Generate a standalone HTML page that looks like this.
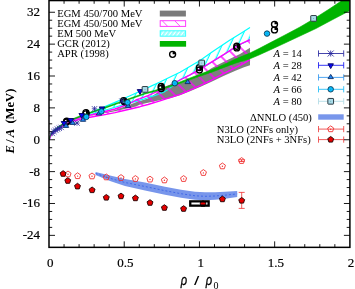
<!DOCTYPE html>
<html><head><meta charset="utf-8"><style>
html,body{margin:0;padding:0;background:#fff;}
body{width:355px;height:289px;position:relative;overflow:hidden;font-family:"Liberation Serif",serif;color:#000;}
</style></head><body>
<svg width="355" height="289" viewBox="0 0 355 289" style="position:absolute;left:0;top:0">
<defs>
<pattern id="hm" width="10" height="10" patternUnits="userSpaceOnUse" patternTransform="translate(2,0) rotate(-45)"><line x1="5" y1="-1" x2="5" y2="11" stroke="#ff00ff" stroke-width="1.4"/></pattern>
<pattern id="hc" width="7.2" height="8" patternUnits="userSpaceOnUse" patternTransform="translate(1.5,0) rotate(25)"><line x1="3" y1="-1" x2="3" y2="9" stroke="#00ffff" stroke-width="1.2"/></pattern>
<pattern id="hcl" width="3.3" height="8" patternUnits="userSpaceOnUse" patternTransform="translate(1,0) rotate(35)"><rect x="0" y="-1" width="2.2" height="10" fill="#9bffff"/></pattern>
<clipPath id="cp"><rect x="48.8" y="0.6" width="300.7" height="246.4"/></clipPath>
</defs>
<rect x="0" y="0" width="355" height="289" fill="#fff"/>
<g clip-path="url(#cp)">
<polygon points="49.3,139.2 50.3,136.5 51.5,134.2 53.0,132.2 55.0,130.3 60.0,126.6 68.0,121.9 76.0,118.7 84.0,116.7 104.0,112.6 115.0,110.0 129.0,105.0 136.0,102.3 140.0,100.9 148.0,98.4 156.0,93.6 164.0,88.6 175.0,85.0 180.0,83.6 199.0,76.3 205.0,72.8 211.0,68.6 218.0,64.8 229.0,59.2 240.0,53.9 250.0,47.8 250.0,65.2 244.0,67.3 236.0,70.5 224.0,75.8 211.0,82.0 200.0,87.0 190.0,91.2 180.0,95.2 170.0,98.2 164.0,99.3 156.0,101.0 148.0,102.8 140.0,104.6 136.0,106.4 129.0,108.0 115.0,111.2 104.0,113.3 84.0,117.0 76.0,118.7 68.0,121.9 60.0,126.6 55.0,130.3 53.0,132.2 51.5,134.2 50.3,136.5 49.3,139.2" fill="#7f7f7f"/>
<polygon points="49.3,139.2 50.3,136.5 51.5,134.2 53.0,132.2 55.0,130.3 60.0,126.6 68.0,121.9 76.0,118.7 84.0,115.5 91.0,112.6 105.0,106.6 115.0,102.4 129.0,96.2 140.0,91.2 150.0,86.6 160.0,82.0 164.0,80.0 180.0,72.2 200.0,60.5 212.4,51.8 230.0,39.9 241.0,33.2 250.0,27.5 250.0,39.9 241.0,44.0 234.0,48.0 224.0,54.6 211.0,62.6 200.0,69.5 190.0,75.0 180.0,79.6 176.0,82.6 172.0,86.4 168.0,89.6 164.0,92.0 158.0,94.6 148.0,97.8 140.0,100.3 136.0,101.4 131.0,102.4 115.0,107.3 105.0,110.2 97.5,112.5 84.0,116.4 76.0,118.7 68.0,121.9 60.0,126.6 55.0,130.3 53.0,132.2 51.5,134.2 50.3,136.5 49.3,139.2" fill="url(#hc)"/>
<polyline points="49.3,139.2 50.3,136.5 51.5,134.2 53.0,132.2 55.0,130.3 60.0,126.6 68.0,121.9 76.0,118.7 84.0,115.5 91.0,112.6 105.0,106.6 115.0,102.4 129.0,96.2 140.0,91.2 150.0,86.6 160.0,82.0 164.0,80.0 180.0,72.2 200.0,60.5 212.4,51.8 230.0,39.9 241.0,33.2 250.0,27.5" fill="none" stroke="#00ffff" stroke-width="1.2" stroke-linejoin="round"/>
<polyline points="49.3,139.2 50.3,136.5 51.5,134.2 53.0,132.2 55.0,130.3 60.0,126.6 68.0,121.9 76.0,118.7 84.0,116.4 97.5,112.5 105.0,110.2 115.0,107.3 131.0,102.4 136.0,101.4 140.0,100.3 148.0,97.8 158.0,94.6 164.0,92.0 168.0,89.6 172.0,86.4 176.0,82.6 180.0,79.6 190.0,75.0 200.0,69.5 211.0,62.6 224.0,54.6 234.0,48.0 241.0,44.0 250.0,39.9" fill="none" stroke="#00ffff" stroke-width="1.1" stroke-linejoin="round"/>
<polygon points="49.3,139.2 50.3,136.5 51.5,134.2 53.0,132.2 55.0,130.3 60.0,126.6 68.0,121.9 76.0,118.7 84.0,116.6 104.0,111.8 115.0,109.0 129.0,104.0 136.0,100.0 140.0,98.7 148.0,95.7 160.0,90.2 170.0,85.3 180.0,80.0 190.0,74.9 200.0,69.1 211.0,62.3 224.0,54.3 234.0,47.8 241.0,43.8 250.0,39.7 250.0,59.7 244.0,63.1 236.0,67.3 224.0,73.4 211.0,80.3 200.0,85.6 190.0,90.2 180.0,94.4 170.0,97.6 160.0,100.8 148.0,104.5 140.0,106.7 125.0,110.3 115.0,112.6 105.0,114.6 90.0,117.3 85.0,118.0 76.0,120.3 68.0,123.0 60.0,127.4 55.0,130.9 53.0,132.7 51.5,134.6 50.3,136.7 49.3,139.2" fill="url(#hm)"/>
<polyline points="49.3,139.2 50.3,136.5 51.5,134.2 53.0,132.2 55.0,130.3 60.0,126.6 68.0,121.9 76.0,118.7 84.0,116.6 104.0,111.8 115.0,109.0 129.0,104.0 136.0,100.0 140.0,98.7 148.0,95.7 160.0,90.2 170.0,85.3 180.0,80.0 190.0,74.9 200.0,69.1 211.0,62.3 224.0,54.3 234.0,47.8 241.0,43.8 250.0,39.7" fill="none" stroke="#ff00ff" stroke-width="1.4" stroke-linejoin="round"/>
<polyline points="49.3,139.2 50.3,136.7 51.5,134.6 53.0,132.7 55.0,130.9 60.0,127.4 68.0,123.0 76.0,120.3 85.0,118.0 90.0,117.3 105.0,114.6 115.0,112.6 125.0,110.3 140.0,106.7 148.0,104.5 160.0,100.8 170.0,97.6 180.0,94.4 190.0,90.2 200.0,85.6 211.0,80.3 224.0,73.4 236.0,67.3 244.0,63.1 250.0,59.7" fill="none" stroke="#ff00ff" stroke-width="1.4" stroke-linejoin="round"/>
<polygon points="49.3,138.2 50.3,135.4 51.5,133.1 53.0,131.1 55.0,129.2 60.0,125.5 68.0,120.8 76.0,117.5 85.0,114.0 105.0,107.2 125.0,100.0 145.0,93.0 156.0,90.0 180.0,81.9 199.0,74.5 211.0,70.1 224.0,64.4 236.0,58.8 250.0,53.0 259.0,48.6 270.0,42.8 284.0,35.5 300.0,27.0 313.6,19.0 330.0,8.5 342.0,0.5 351.0,-5.5 351.0,10.0 349.0,11.0 330.0,21.0 316.0,28.5 300.0,36.0 284.0,43.5 270.0,50.0 259.0,55.0 250.0,58.8 236.0,63.0 224.0,67.4 211.0,72.5 199.0,76.5 180.0,83.5 156.0,91.2 145.0,94.0 125.0,101.0 105.0,108.2 85.0,115.0 76.0,118.5 68.0,121.8 60.0,126.5 55.0,130.1 53.0,131.9 51.5,133.9 50.3,136.2 49.3,139.0" fill="#00b400" stroke="#00b400" stroke-width="0.6"/>
<circle cx="66.7" cy="121.2" r="3.0" fill="none" stroke="#000" stroke-width="1.35"/>
<path d="M66.7,121.2 L66.7,118.2 A3.0,3.0 0 0 1 69.7,121.2 Z" fill="#000"/>
<circle cx="66.7" cy="122" r="3.0" fill="none" stroke="#000" stroke-width="1.35"/>
<path d="M66.7,122 L66.7,119.0 A3.0,3.0 0 0 1 69.7,122 Z" fill="#000"/>
<circle cx="86" cy="112.6" r="3.0" fill="none" stroke="#000" stroke-width="1.35"/>
<path d="M86,112.6 L86,109.6 A3.0,3.0 0 0 1 89.0,112.6 Z" fill="#000"/>
<circle cx="86" cy="113.8" r="3.0" fill="none" stroke="#000" stroke-width="1.35"/>
<path d="M86,113.8 L86,110.8 A3.0,3.0 0 0 1 89.0,113.8 Z" fill="#000"/>
<circle cx="123.6" cy="100.6" r="3.0" fill="none" stroke="#000" stroke-width="1.35"/>
<path d="M123.6,100.6 L123.6,97.6 A3.0,3.0 0 0 1 126.6,100.6 Z" fill="#000"/>
<circle cx="124.4" cy="101.8" r="3.0" fill="none" stroke="#000" stroke-width="1.35"/>
<path d="M124.4,101.8 L124.4,98.8 A3.0,3.0 0 0 1 127.4,101.8 Z" fill="#000"/>
<circle cx="161.2" cy="86.5" r="3.0" fill="none" stroke="#000" stroke-width="1.35"/>
<path d="M161.2,86.5 L161.2,83.5 A3.0,3.0 0 0 1 164.2,86.5 Z" fill="#000"/>
<circle cx="161.2" cy="88.5" r="3.0" fill="none" stroke="#000" stroke-width="1.35"/>
<path d="M161.2,88.5 L161.2,85.5 A3.0,3.0 0 0 1 164.2,88.5 Z" fill="#000"/>
<circle cx="199.4" cy="67.6" r="3.0" fill="none" stroke="#000" stroke-width="1.35"/>
<path d="M199.4,67.6 L199.4,64.6 A3.0,3.0 0 0 1 202.4,67.6 Z" fill="#000"/>
<circle cx="199.4" cy="70.0" r="3.0" fill="none" stroke="#000" stroke-width="1.35"/>
<path d="M199.4,70.0 L199.4,67.0 A3.0,3.0 0 0 1 202.4,70.0 Z" fill="#000"/>
<circle cx="236.8" cy="46.2" r="3.0" fill="none" stroke="#000" stroke-width="1.35"/>
<path d="M236.8,46.2 L236.8,43.2 A3.0,3.0 0 0 1 239.8,46.2 Z" fill="#000"/>
<circle cx="236.8" cy="47.9" r="3.0" fill="none" stroke="#000" stroke-width="1.35"/>
<path d="M236.8,47.9 L236.8,44.9 A3.0,3.0 0 0 1 239.8,47.9 Z" fill="#000"/>
<circle cx="274.5" cy="24.3" r="3.0" fill="none" stroke="#000" stroke-width="1.35"/>
<path d="M274.5,24.3 L274.5,21.3 A3.0,3.0 0 0 1 277.5,24.3 Z" fill="#000"/>
<circle cx="274.5" cy="29.9" r="3.0" fill="none" stroke="#000" stroke-width="1.35"/>
<path d="M274.5,29.9 L274.5,26.9 A3.0,3.0 0 0 1 277.5,29.9 Z" fill="#000"/>
<path d="M49.50,130.70L54.90,136.10M49.50,136.10L54.90,130.70M49.50,133.40L54.90,133.40M52.20,130.70L52.20,136.10" stroke="#26269c" stroke-width="0.75" fill="none"/>
<path d="M51.20,128.80L56.60,134.20M51.20,134.20L56.60,128.80M51.20,131.50L56.60,131.50M53.90,128.80L53.90,134.20" stroke="#26269c" stroke-width="0.75" fill="none"/>
<path d="M53.00,127.50L58.40,132.90M53.00,132.90L58.40,127.50M53.00,130.20L58.40,130.20M55.70,127.50L55.70,132.90" stroke="#26269c" stroke-width="0.75" fill="none"/>
<path d="M54.80,126.40L60.20,131.80M54.80,131.80L60.20,126.40M54.80,129.10L60.20,129.10M57.50,126.40L57.50,131.80" stroke="#26269c" stroke-width="0.75" fill="none"/>
<path d="M56.60,125.50L62.00,130.90M56.60,130.90L62.00,125.50M56.60,128.20L62.00,128.20M59.30,125.50L59.30,130.90" stroke="#26269c" stroke-width="0.75" fill="none"/>
<path d="M58.50,124.70L63.90,130.10M58.50,130.10L63.90,124.70M58.50,127.40L63.90,127.40M61.20,124.70L61.20,130.10" stroke="#26269c" stroke-width="0.75" fill="none"/>
<path d="M74.30,120.30L79.70,125.70M74.30,125.70L79.70,120.30M74.30,123.00L79.70,123.00M77.00,120.30L77.00,125.70" stroke="#26269c" stroke-width="0.75" fill="none"/>
<path d="M91.80,106.10L97.20,111.50M91.80,111.50L97.20,106.10M91.80,108.80L97.20,108.80M94.50,106.10L94.50,111.50" stroke="#26269c" stroke-width="0.75" fill="none"/>
<path d="M119.30,98.50L124.70,103.90M119.30,103.90L124.70,98.50M119.30,101.20L124.70,101.20M122.00,98.50L122.00,103.90" stroke="#26269c" stroke-width="0.75" fill="none"/>
<path d="M61.25,121.50L66.75,121.50L64.00,126.30Z" fill="#0808f0" stroke="#000064" stroke-width="0.9" stroke-linejoin="round"/>
<path d="M68.15,118.50L73.65,118.50L70.90,123.30Z" fill="#0808f0" stroke="#000064" stroke-width="0.9" stroke-linejoin="round"/>
<path d="M78.95,113.50L84.45,113.50L81.70,118.30Z" fill="#0808f0" stroke="#000064" stroke-width="0.9" stroke-linejoin="round"/>
<path d="M99.25,106.90L104.75,106.90L102.00,111.70Z" fill="#0808f0" stroke="#000064" stroke-width="0.9" stroke-linejoin="round"/>
<path d="M137.25,89.60L142.75,89.60L140.00,94.40Z" fill="#0808f0" stroke="#000064" stroke-width="0.9" stroke-linejoin="round"/>
<path d="M63.30,127.40L68.70,127.40L66.00,123.20Z" fill="#1e82f0" stroke="#0c2c64" stroke-width="0.9" stroke-linejoin="round"/>
<path d="M70.00,124.40L75.40,124.40L72.70,120.20Z" fill="#1e82f0" stroke="#0c2c64" stroke-width="0.9" stroke-linejoin="round"/>
<path d="M80.30,121.30L85.70,121.30L83.00,117.10Z" fill="#1e82f0" stroke="#0c2c64" stroke-width="0.9" stroke-linejoin="round"/>
<path d="M96.30,115.00L101.70,115.00L99.00,110.80Z" fill="#1e82f0" stroke="#0c2c64" stroke-width="0.9" stroke-linejoin="round"/>
<path d="M125.30,107.40L130.70,107.40L128.00,103.20Z" fill="#1e82f0" stroke="#0c2c64" stroke-width="0.9" stroke-linejoin="round"/>
<path d="M185.00,83.60L190.40,83.60L187.70,79.40Z" fill="#1e82f0" stroke="#0c2c64" stroke-width="0.9" stroke-linejoin="round"/>
<circle cx="86.3" cy="116.9" r="2.75" fill="#08bcfc" stroke="#0a3c5a" stroke-width="0.9"/>
<circle cx="86.3" cy="116.9" r="0.5" fill="#0a90c8"/>
<circle cx="101.4" cy="111.4" r="2.75" fill="#08bcfc" stroke="#0a3c5a" stroke-width="0.9"/>
<circle cx="101.4" cy="111.4" r="0.5" fill="#0a90c8"/>
<circle cx="127.6" cy="102.4" r="2.75" fill="#08bcfc" stroke="#0a3c5a" stroke-width="0.9"/>
<circle cx="127.6" cy="102.4" r="0.5" fill="#0a90c8"/>
<circle cx="174.8" cy="83.2" r="2.75" fill="#08bcfc" stroke="#0a3c5a" stroke-width="0.9"/>
<circle cx="174.8" cy="83.2" r="0.5" fill="#0a90c8"/>
<circle cx="267" cy="33.6" r="2.75" fill="#08bcfc" stroke="#0a3c5a" stroke-width="0.9"/>
<circle cx="267" cy="33.6" r="0.5" fill="#0a90c8"/>
<rect x="142.15" y="86.55" width="5.7" height="5.7" rx="0.5" fill="#aadcea" stroke="#2c3c44" stroke-width="1.0"/>
<circle cx="145" cy="89.4" r="0.5" fill="#6aa"/>
<rect x="198.85" y="60.15" width="5.7" height="5.7" rx="0.5" fill="#aadcea" stroke="#2c3c44" stroke-width="1.0"/>
<circle cx="201.7" cy="63" r="0.5" fill="#6aa"/>
<rect x="310.75" y="15.55" width="5.7" height="5.7" rx="0.5" fill="#aadcea" stroke="#2c3c44" stroke-width="1.0"/>
<circle cx="313.6" cy="18.4" r="0.5" fill="#6aa"/>
<polygon points="95.6,171.9 110.0,175.6 125.0,179.0 145.0,182.5 165.0,186.7 181.0,189.7 195.0,191.8 205.0,192.3 215.0,192.2 225.0,191.7 237.2,190.9 237.2,196.9 225.0,198.7 215.0,199.8 205.0,200.3 195.0,199.8 181.0,197.7 165.0,194.7 145.0,190.5 125.0,186.0 110.0,181.0 95.6,175.1" fill="#7896eb"/>
<polyline points="95.6,173.5 110,178.3 125,182.5 145,186.5 165,190.7 181,193.7 195,195.8 205,196.3 215,196 225,195.2 237.2,193.9" fill="none" stroke="#3c64e6" stroke-width="0.9" stroke-dasharray="2,2"/>
<polygon points="68.00,171.00 71.04,173.21 69.88,176.79 66.12,176.79 64.96,173.21" fill="none" stroke="#f03030" stroke-width="0.9"/>
<circle cx="68" cy="174.3" r="0.7" fill="#f03030"/>
<polygon points="77.60,172.80 80.64,175.01 79.48,178.59 75.72,178.59 74.56,175.01" fill="none" stroke="#f03030" stroke-width="0.9"/>
<circle cx="77.6" cy="176.10000000000002" r="0.7" fill="#f03030"/>
<polygon points="92.00,173.00 95.04,175.21 93.88,178.79 90.12,178.79 88.96,175.21" fill="none" stroke="#f03030" stroke-width="0.9"/>
<circle cx="92" cy="176.3" r="0.7" fill="#f03030"/>
<polygon points="106.30,174.00 109.34,176.21 108.18,179.79 104.42,179.79 103.26,176.21" fill="none" stroke="#f03030" stroke-width="0.9"/>
<circle cx="106.3" cy="177.3" r="0.7" fill="#f03030"/>
<polygon points="121.00,174.60 124.04,176.81 122.88,180.39 119.12,180.39 117.96,176.81" fill="none" stroke="#f03030" stroke-width="0.9"/>
<circle cx="121" cy="177.9" r="0.7" fill="#f03030"/>
<polygon points="135.40,175.60 138.44,177.81 137.28,181.39 133.52,181.39 132.36,177.81" fill="none" stroke="#f03030" stroke-width="0.9"/>
<circle cx="135.4" cy="178.9" r="0.7" fill="#f03030"/>
<polygon points="150.00,176.20 153.04,178.41 151.88,181.99 148.12,181.99 146.96,178.41" fill="none" stroke="#f03030" stroke-width="0.9"/>
<circle cx="150" cy="179.5" r="0.7" fill="#f03030"/>
<polygon points="164.40,177.00 167.44,179.21 166.28,182.79 162.52,182.79 161.36,179.21" fill="none" stroke="#f03030" stroke-width="0.9"/>
<circle cx="164.4" cy="180.3" r="0.7" fill="#f03030"/>
<polygon points="183.60,175.60 186.64,177.81 185.48,181.39 181.72,181.39 180.56,177.81" fill="none" stroke="#f03030" stroke-width="0.9"/>
<circle cx="183.6" cy="178.9" r="0.7" fill="#f03030"/>
<polygon points="203.40,169.60 206.44,171.81 205.28,175.39 201.52,175.39 200.36,171.81" fill="none" stroke="#f03030" stroke-width="0.9"/>
<circle cx="203.4" cy="172.9" r="0.7" fill="#f03030"/>
<polygon points="222.40,163.00 225.44,165.21 224.28,168.79 220.52,168.79 219.36,165.21" fill="none" stroke="#f03030" stroke-width="0.9"/>
<circle cx="222.4" cy="166.3" r="0.7" fill="#f03030"/>
<path d="M241.6,159.7L241.6,161.5M238.6,159.7L244.6,159.7M238.6,161.5L244.6,161.5" stroke="#f03030" stroke-width="0.8" fill="none"/>
<polygon points="241.60,157.60 244.64,159.81 243.48,163.39 239.72,163.39 238.56,159.81" fill="none" stroke="#f03030" stroke-width="0.9"/>
<circle cx="241.6" cy="160.9" r="0.7" fill="#f03030"/>
<polygon points="63.10,170.70 66.05,172.84 64.92,176.31 61.28,176.31 60.15,172.84" fill="#e60000" stroke="#1e0000" stroke-width="0.9"/>
<polygon points="67.80,177.70 70.75,179.84 69.62,183.31 65.98,183.31 64.85,179.84" fill="#e60000" stroke="#1e0000" stroke-width="0.9"/>
<polygon points="77.50,183.30 80.45,185.44 79.32,188.91 75.68,188.91 74.55,185.44" fill="#e60000" stroke="#1e0000" stroke-width="0.9"/>
<polygon points="92.10,187.00 95.05,189.14 93.92,192.61 90.28,192.61 89.15,189.14" fill="#e60000" stroke="#1e0000" stroke-width="0.9"/>
<polygon points="106.30,194.50 109.25,196.64 108.12,200.11 104.48,200.11 103.35,196.64" fill="#e60000" stroke="#1e0000" stroke-width="0.9"/>
<polygon points="121.00,193.10 123.95,195.24 122.82,198.71 119.18,198.71 118.05,195.24" fill="#e60000" stroke="#1e0000" stroke-width="0.9"/>
<polygon points="135.40,195.10 138.35,197.24 137.22,200.71 133.58,200.71 132.45,197.24" fill="#e60000" stroke="#1e0000" stroke-width="0.9"/>
<polygon points="150.00,199.70 152.95,201.84 151.82,205.31 148.18,205.31 147.05,201.84" fill="#e60000" stroke="#1e0000" stroke-width="0.9"/>
<polygon points="164.40,204.70 167.35,206.84 166.22,210.31 162.58,210.31 161.45,206.84" fill="#e60000" stroke="#1e0000" stroke-width="0.9"/>
<polygon points="183.60,205.70 186.55,207.84 185.42,211.31 181.78,211.31 180.65,207.84" fill="#e60000" stroke="#1e0000" stroke-width="0.9"/>
<polygon points="203.00,200.70 205.95,202.84 204.82,206.31 201.18,206.31 200.05,202.84" fill="#e60000" stroke="#1e0000" stroke-width="0.9"/>
<polygon points="222.40,196.10 225.35,198.24 224.22,201.71 220.58,201.71 219.45,198.24" fill="#e60000" stroke="#1e0000" stroke-width="0.9"/>
<path d="M241.7,192.4L241.7,208.4M238.7,192.4L244.7,192.4M238.7,208.4L244.7,208.4" stroke="#f03030" stroke-width="0.8" fill="none"/>
<polygon points="241.70,197.50 244.65,199.64 243.52,203.11 239.88,203.11 238.75,199.64" fill="#e60000" stroke="#1e0000" stroke-width="0.9"/>
<rect x="190.25" y="201.35" width="18.4" height="4.3" fill="none" stroke="#000" stroke-width="2.3"/>
</g>
<rect x="159.8" y="10.6" width="26.1" height="5.9" fill="#7a7a7a"/>
<rect x="160.2" y="20.7" width="25.4" height="5.7" fill="#fff" stroke="#ff3cff" stroke-width="1"/>
<path d="M162.5,21 L167.5,26.2 M175,21 L180,26.2" stroke="#ff3cff" stroke-width="0.9"/>
<rect x="160.2" y="30.8" width="25.4" height="5.4" fill="url(#hcl)" stroke="#3cffff" stroke-width="1"/>
<rect x="159.8" y="41" width="26.3" height="5.7" fill="#00b400"/>
<circle cx="172.6" cy="54.3" r="3.0" fill="#fff" stroke="#000" stroke-width="1.35"/>
<path d="M172.6,54.3 L172.6,51.3 A3.0,3.0 0 0 1 175.6,54.3 Z" fill="#000"/>
<path d="M318.5,53.5L343.7,53.5M318.5,50.4L318.5,56.6M343.7,50.4L343.7,56.6" stroke="#3232a4" stroke-width="0.9" fill="none"/>
<path d="M327.70,50.50L333.70,56.50M327.70,56.50L333.70,50.50M327.70,53.50L333.70,53.50M330.70,50.50L330.70,56.50" stroke="#26269c" stroke-width="0.85" fill="none"/>
<path d="M318.5,65.3L343.7,65.3M318.5,62.199999999999996L318.5,68.39999999999999M343.7,62.199999999999996L343.7,68.39999999999999" stroke="#2222f4" stroke-width="0.9" fill="none"/>
<path d="M327.95,63.80L333.45,63.80L330.70,68.60Z" fill="#0808f0" stroke="#000064" stroke-width="0.9" stroke-linejoin="round"/>
<path d="M318.5,77.4L343.7,77.4M318.5,74.30000000000001L318.5,80.5M343.7,74.30000000000001L343.7,80.5" stroke="#3c9cf0" stroke-width="0.9" fill="none"/>
<path d="M328.00,78.60L333.40,78.60L330.70,74.40Z" fill="#1e82f0" stroke="#0c2c64" stroke-width="0.9" stroke-linejoin="round"/>
<path d="M318.5,89.3L343.7,89.3M318.5,86.2L318.5,92.39999999999999M343.7,86.2L343.7,92.39999999999999" stroke="#28c0f8" stroke-width="0.9" fill="none"/>
<circle cx="330.7" cy="89.3" r="2.75" fill="#08bcfc" stroke="#0a3c5a" stroke-width="0.9"/>
<circle cx="330.7" cy="89.3" r="0.5" fill="#0a90c8"/>
<path d="M318.5,101.3L343.7,101.3M318.5,98.2L318.5,104.39999999999999M343.7,98.2L343.7,104.39999999999999" stroke="#b4dce6" stroke-width="0.9" fill="none"/>
<rect x="327.85" y="98.45" width="5.7" height="5.7" rx="0.5" fill="#aadcea" stroke="#2c3c44" stroke-width="1.0"/>
<circle cx="330.7" cy="101.3" r="0.5" fill="#6aa"/>
<rect x="318.2" y="114.3" width="25.5" height="5.4" fill="#7896eb"/>
<path d="M318.5,129.1L343.7,129.1M318.5,126.0L318.5,132.2M343.7,126.0L343.7,132.2" stroke="#ee3434" stroke-width="0.8" fill="none"/>
<polygon points="330.70,125.90 333.74,128.11 332.58,131.69 328.82,131.69 327.66,128.11" fill="none" stroke="#f03030" stroke-width="0.9"/>
<circle cx="330.7" cy="129.20000000000002" r="0.7" fill="#f03030"/>
<path d="M318.5,139.6L343.7,139.6M318.5,136.5L318.5,142.7M343.7,136.5L343.7,142.7" stroke="#ee3434" stroke-width="0.8" fill="none"/>
<polygon points="330.70,136.50 333.65,138.64 332.52,142.11 328.88,142.11 327.75,138.64" fill="#e60000" stroke="#1e0000" stroke-width="0.9"/>
<rect x="49.0" y="0.55" width="300.9" height="246.79999999999998" fill="none" stroke="#000" stroke-width="1.5"/>
<path d="M64.05,247.35L64.05,244.15M64.05,0.55L64.05,3.75M79.09,247.35L79.09,244.15M79.09,0.55L79.09,3.75M94.13,247.35L94.13,244.15M94.13,0.55L94.13,3.75M109.18,247.35L109.18,244.15M109.18,0.55L109.18,3.75M124.22,247.35L124.22,241.35M124.22,0.55L124.22,6.55M139.27,247.35L139.27,244.15M139.27,0.55L139.27,3.75M154.31,247.35L154.31,244.15M154.31,0.55L154.31,3.75M169.36,247.35L169.36,244.15M169.36,0.55L169.36,3.75M184.41,247.35L184.41,244.15M184.41,0.55L184.41,3.75M199.45,247.35L199.45,241.35M199.45,0.55L199.45,6.55M214.50,247.35L214.50,244.15M214.50,0.55L214.50,3.75M229.54,247.35L229.54,244.15M229.54,0.55L229.54,3.75M244.58,247.35L244.58,244.15M244.58,0.55L244.58,3.75M259.63,247.35L259.63,244.15M259.63,0.55L259.63,3.75M274.67,247.35L274.67,241.35M274.67,0.55L274.67,6.55M289.72,247.35L289.72,244.15M289.72,0.55L289.72,3.75M304.76,247.35L304.76,244.15M304.76,0.55L304.76,3.75M319.81,247.35L319.81,244.15M319.81,0.55L319.81,3.75M334.85,247.35L334.85,244.15M334.85,0.55L334.85,3.75M49.0,235.37L55.0,235.37M349.9,235.37L343.9,235.37M49.0,227.40L52.2,227.40M349.9,227.40L346.7,227.40M49.0,219.43L52.2,219.43M349.9,219.43L346.7,219.43M49.0,211.46L52.2,211.46M349.9,211.46L346.7,211.46M49.0,203.49L55.0,203.49M349.9,203.49L343.9,203.49M49.0,195.53L52.2,195.53M349.9,195.53L346.7,195.53M49.0,187.56L52.2,187.56M349.9,187.56L346.7,187.56M49.0,179.59L52.2,179.59M349.9,179.59L346.7,179.59M49.0,171.62L55.0,171.62M349.9,171.62L343.9,171.62M49.0,163.65L52.2,163.65M349.9,163.65L346.7,163.65M49.0,155.69L52.2,155.69M349.9,155.69L346.7,155.69M49.0,147.72L52.2,147.72M349.9,147.72L346.7,147.72M49.0,139.75L55.0,139.75M349.9,139.75L343.9,139.75M49.0,131.78L52.2,131.78M349.9,131.78L346.7,131.78M49.0,123.81L52.2,123.81M349.9,123.81L346.7,123.81M49.0,115.85L52.2,115.85M349.9,115.85L346.7,115.85M49.0,107.88L55.0,107.88M349.9,107.88L343.9,107.88M49.0,99.91L52.2,99.91M349.9,99.91L346.7,99.91M49.0,91.94L52.2,91.94M349.9,91.94L346.7,91.94M49.0,83.97L52.2,83.97M349.9,83.97L346.7,83.97M49.0,76.01L55.0,76.01M349.9,76.01L343.9,76.01M49.0,68.04L52.2,68.04M349.9,68.04L346.7,68.04M49.0,60.07L52.2,60.07M349.9,60.07L346.7,60.07M49.0,52.10L52.2,52.10M349.9,52.10L346.7,52.10M49.0,44.13L55.0,44.13M349.9,44.13L343.9,44.13M49.0,36.17L52.2,36.17M349.9,36.17L346.7,36.17M49.0,28.20L52.2,28.20M349.9,28.20L346.7,28.20M49.0,20.23L52.2,20.23M349.9,20.23L346.7,20.23M49.0,12.26L55.0,12.26M349.9,12.26L343.9,12.26" stroke="#000" stroke-width="0.9" fill="none"/>
</svg>
<div style="position:absolute;left:0;top:0;width:355px;height:289px;will-change:transform"><div style="position:absolute;white-space:nowrap;font-size:13px;line-height:13px;-webkit-text-stroke:0.2px #000;right:315.0px;top:5.26px;">32</div><div style="position:absolute;white-space:nowrap;font-size:13px;line-height:13px;-webkit-text-stroke:0.2px #000;right:315.0px;top:37.13px;">24</div><div style="position:absolute;white-space:nowrap;font-size:13px;line-height:13px;-webkit-text-stroke:0.2px #000;right:315.0px;top:69.01px;">16</div><div style="position:absolute;white-space:nowrap;font-size:13px;line-height:13px;-webkit-text-stroke:0.2px #000;right:315.0px;top:100.88px;">8</div><div style="position:absolute;white-space:nowrap;font-size:13px;line-height:13px;-webkit-text-stroke:0.2px #000;right:315.0px;top:132.75px;">0</div><div style="position:absolute;white-space:nowrap;font-size:13px;line-height:13px;-webkit-text-stroke:0.2px #000;right:315.0px;top:164.62px;">-8</div><div style="position:absolute;white-space:nowrap;font-size:13px;line-height:13px;-webkit-text-stroke:0.2px #000;right:315.0px;top:196.49px;">-16</div><div style="position:absolute;white-space:nowrap;font-size:13px;line-height:13px;-webkit-text-stroke:0.2px #000;right:315.0px;top:228.37px;">-24</div><div style="position:absolute;white-space:nowrap;font-size:13px;line-height:13px;-webkit-text-stroke:0.2px #000;left:-49.8px;width:200px;text-align:center;top:255.60px;">0</div><div style="position:absolute;white-space:nowrap;font-size:13px;line-height:13px;-webkit-text-stroke:0.2px #000;left:25.424999999999997px;width:200px;text-align:center;top:255.60px;">0.5</div><div style="position:absolute;white-space:nowrap;font-size:13px;line-height:13px;-webkit-text-stroke:0.2px #000;left:100.64999999999998px;width:200px;text-align:center;top:255.60px;">1</div><div style="position:absolute;white-space:nowrap;font-size:13px;line-height:13px;-webkit-text-stroke:0.2px #000;left:175.87499999999994px;width:200px;text-align:center;top:255.60px;">1.5</div><div style="position:absolute;white-space:nowrap;font-size:13px;line-height:13px;-webkit-text-stroke:0.2px #000;left:251.09999999999997px;width:200px;text-align:center;top:255.60px;">2</div><div style="position:absolute;white-space:nowrap;font-size:10.6px;line-height:10.6px;left:57.2px;top:9.22px;">EGM 450/700 MeV</div><div style="position:absolute;white-space:nowrap;font-size:10.6px;line-height:10.6px;left:57.2px;top:19.22px;">EGM 450/500 MeV</div><div style="position:absolute;white-space:nowrap;font-size:10.6px;line-height:10.6px;left:57.2px;top:29.22px;">EM 500 MeV</div><div style="position:absolute;white-space:nowrap;font-size:10.6px;line-height:10.6px;left:57.2px;top:39.22px;">GCR (2012)</div><div style="position:absolute;white-space:nowrap;font-size:10.6px;line-height:10.6px;left:57.2px;top:49.22px;">APR (1998)</div><div style="position:absolute;white-space:nowrap;font-size:10.6px;line-height:10.6px;left:273.5px;top:49.22px;"><i>A</i> = 14</div><div style="position:absolute;white-space:nowrap;font-size:10.6px;line-height:10.6px;left:273.5px;top:61.02px;"><i>A</i> = 28</div><div style="position:absolute;white-space:nowrap;font-size:10.6px;line-height:10.6px;left:273.5px;top:73.12px;"><i>A</i> = 42</div><div style="position:absolute;white-space:nowrap;font-size:10.6px;line-height:10.6px;left:273.5px;top:85.02px;"><i>A</i> = 66</div><div style="position:absolute;white-space:nowrap;font-size:10.6px;line-height:10.6px;left:273.5px;top:97.02px;"><i>A</i> = 80</div><div style="position:absolute;white-space:nowrap;font-size:10.6px;line-height:10.6px;right:43.19999999999999px;top:112.92px;">&Delta;NNLO (450)</div><div style="position:absolute;white-space:nowrap;font-size:10.6px;line-height:10.6px;left:216.8px;top:124.52px;">N3LO (2NFs only)</div><div style="position:absolute;white-space:nowrap;font-size:10.6px;line-height:10.6px;left:216.8px;top:134.72px;">N3LO (2NFs + 3NFs)</div>
<div style="position:absolute;left:-90.3px;top:114px;width:200px;height:14px;line-height:14px;text-align:center;transform:rotate(-90deg);font-weight:bold;font-size:12.6px;white-space:nowrap;word-spacing:-1px"><i>E</i> / <i>A</i> <span style="margin-left:3px">(MeV)</span></div>
<div style="position:absolute;left:133.5px;width:100px;top:275.3px;text-align:center;font-family:'Liberation Sans',sans-serif;font-style:italic;font-size:11.8px;line-height:11.8px;-webkit-text-stroke:0.25px #000;transform-origin:50% 35%;transform:scale(0.94,1.17)">&rho;</div>
<div style="position:absolute;left:146.3px;width:100px;top:273.6px;text-align:center;font-family:'Liberation Sans',sans-serif;font-style:italic;font-weight:bold;font-size:13px;line-height:13px">/</div>
<div style="position:absolute;left:158.9px;width:100px;top:275.3px;text-align:center;font-family:'Liberation Sans',sans-serif;font-style:italic;font-size:11.8px;line-height:11.8px;-webkit-text-stroke:0.25px #000;transform-origin:50% 35%;transform:scale(0.94,1.17)">&rho;</div>
<div style="position:absolute;left:166.1px;width:100px;top:281.4px;text-align:center;font-size:10px;line-height:10px">0</div>
</div></body></html>
